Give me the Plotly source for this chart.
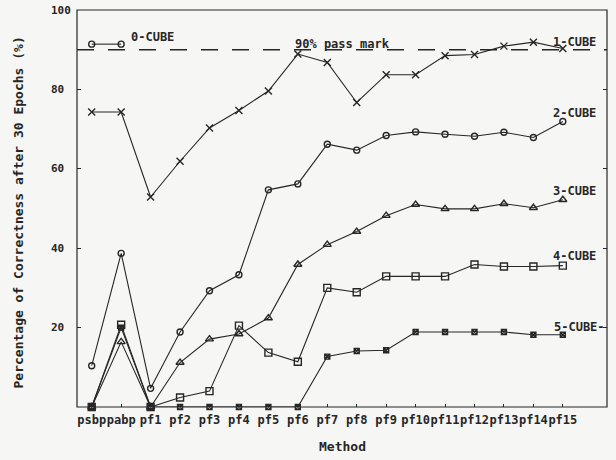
import plotly.graph_objects as go

# ---- data ----
METHODS = ["psbp", "pabp", "pf1", "pf2", "pf3", "pf4", "pf5", "pf6", "pf7",
           "pf8", "pf9", "pf10", "pf11", "pf12", "pf13", "pf14", "pf15"]

CUBE0 = [91.4, 91.4]
CUBE1 = [74.3, 74.3, 52.9, 61.9, 70.3, 74.7, 79.6, 88.9, 86.8, 76.7, 83.7, 83.7,
         88.5, 88.8, 90.9, 91.9, 90.3]
CUBE2 = [10.4, 38.7, 4.7, 18.9, 29.3, 33.3, 54.7, 56.2, 66.2, 64.7, 68.4, 69.3,
         68.7, 68.2, 69.2, 67.9, 71.9]
CUBE3 = [0.0, 16.4, 0.0, 11.2, 17.1, 18.4, 22.4, 35.9, 40.9, 44.2, 48.2, 51.0,
         49.9, 49.9, 51.2, 50.2, 52.2]
CUBE4 = [0.0, 20.7, 0.0, 2.4, 4.0, 20.5, 13.7, 11.4, 30.0, 28.9, 32.9, 32.9,
         32.9, 35.9, 35.4, 35.4, 35.6]
CUBE5 = [0.0, 20.0, 0.0, 0.0, 0.0, 0.0, 0.0, 0.0, 12.7, 14.1, 14.3, 18.9,
         18.9, 18.9, 18.9, 18.2, 18.2]

SERIES_NAMES = ["0-CUBE", "1-CUBE", "2-CUBE", "3-CUBE", "4-CUBE", "5-CUBE"]
PASS_MARK = 90
PASS_LABEL = "90% pass mark"
Y_TICKS = [0, 20, 40, 60, 80, 100]
X_TITLE = "Method"
Y_TITLE = "Percentage of Correctness after 30 Epochs (%)"

# ---- figure ----
INK = "#262626"
FONT = "DejaVu Sans Mono"
BG = "#f6f6f4"

series = [CUBE0, CUBE1, CUBE2, CUBE3, CUBE4, CUBE5]
symbols = ["circle-open", "x-thin-open", "circle-open", "triangle-up-open",
           "square-open", "square-x-open"]
sizes = [6, 7, 6, 7, 7, 5]

fig = go.Figure()
for name, vals, sym, sz in zip(SERIES_NAMES, series, symbols, sizes):
    fig.add_trace(go.Scatter(
        x=METHODS[:len(vals)], y=vals, mode="lines+markers", name=name,
        line=dict(color=INK, width=1.1),
        marker=dict(symbol=sym, size=sz, color=INK,
                    line=dict(color=INK, width=1.4)),
        cliponaxis=False, showlegend=False,
    ))

# 90% pass mark
fig.add_shape(type="line", xref="paper", x0=0, x1=1, yref="y",
              y0=PASS_MARK, y1=PASS_MARK,
              line=dict(color=INK, width=1.4, dash="17px,14px"))

# frame
fig.add_shape(type="rect", xref="paper", yref="paper", x0=0, x1=1, y0=0, y1=1,
              line=dict(color=INK, width=1.2))

lab_font = dict(family=FONT, size=12, color=INK, weight="bold")
W = 530.0  # plot width in px
L = 77.0


def px_x(px):
    return (px - L) / W


ann = []
# series labels: (text, left px, y value)
label_pos = [
    (SERIES_NAMES[0], 129, 93.2),
    (SERIES_NAMES[1], 551, 91.9),
    (SERIES_NAMES[2], 551, 74.1),
    (SERIES_NAMES[3], 551, 54.4),
    (SERIES_NAMES[4], 551, 38.0),
    (SERIES_NAMES[5] + "-", 552, 20.2),
]
for t, xp, yv in label_pos:
    ann.append(dict(text=t, xref="paper", x=px_x(xp), xanchor="left",
                    yref="y", y=yv, yanchor="middle", showarrow=False,
                    font=lab_font))
ann.append(dict(text=PASS_LABEL, xref="paper", x=px_x(293), xanchor="left",
                yref="y", y=91.5, yanchor="middle", showarrow=False,
                font=lab_font))

# y tick labels (left aligned, as in the reference)
for v in Y_TICKS:
    yv = v if v != 0 else -3.5
    ann.append(dict(text=str(v), xref="paper", x=px_x(49), xanchor="left",
                    yref="y", y=yv, yanchor="middle", showarrow=False,
                    font=dict(family=FONT, size=11, color=INK, weight="bold")))

# axis titles
ann.append(dict(text=X_TITLE, xref="paper", x=0.5, xanchor="center",
                yref="paper", y=-0.10, yanchor="middle", showarrow=False,
                font=dict(family=FONT, size=13, color=INK, weight="bold")))
ann.append(dict(text=Y_TITLE, xref="paper", x=px_x(18), xanchor="center",
                yref="paper", y=0.49, yanchor="middle", showarrow=False,
                textangle=-90,
                font=dict(family=FONT, size=13, color=INK, weight="bold")))

fig.update_layout(
    width=616, height=460,
    margin=dict(l=77, r=9, t=10, b=53),
    paper_bgcolor=BG, plot_bgcolor=BG,
    font=dict(family=FONT, color=INK),
    annotations=ann,
    xaxis=dict(
        type="category", categoryorder="array", categoryarray=METHODS,
        range=[-0.5, len(METHODS) + 0.5],
        showgrid=False, zeroline=False, showline=False,
        ticks="inside", ticklen=3, tickcolor=INK, tickangle=0,
        ticklabelstandoff=4,
        tickfont=dict(family=FONT, size=12, color=INK, weight="bold"),
    ),
    yaxis=dict(
        range=[0, 100], tickvals=Y_TICKS[1:-1], showticklabels=False,
        showgrid=False, zeroline=False, showline=False,
        ticks="inside", ticklen=4, tickcolor=INK,
    ),
    yaxis2=dict(
        overlaying="y", side="right", range=[0, 100],
        tickvals=Y_TICKS[1:-1], showticklabels=False, showgrid=False,
        zeroline=False, ticks="inside", ticklen=4, tickcolor=INK,
    ),
)
# invisible trace to activate right axis ticks
fig.add_trace(go.Scatter(x=[METHODS[0]], y=[None], yaxis="y2",
                         showlegend=False, hoverinfo="skip"))

fig.write_html("out.html")
